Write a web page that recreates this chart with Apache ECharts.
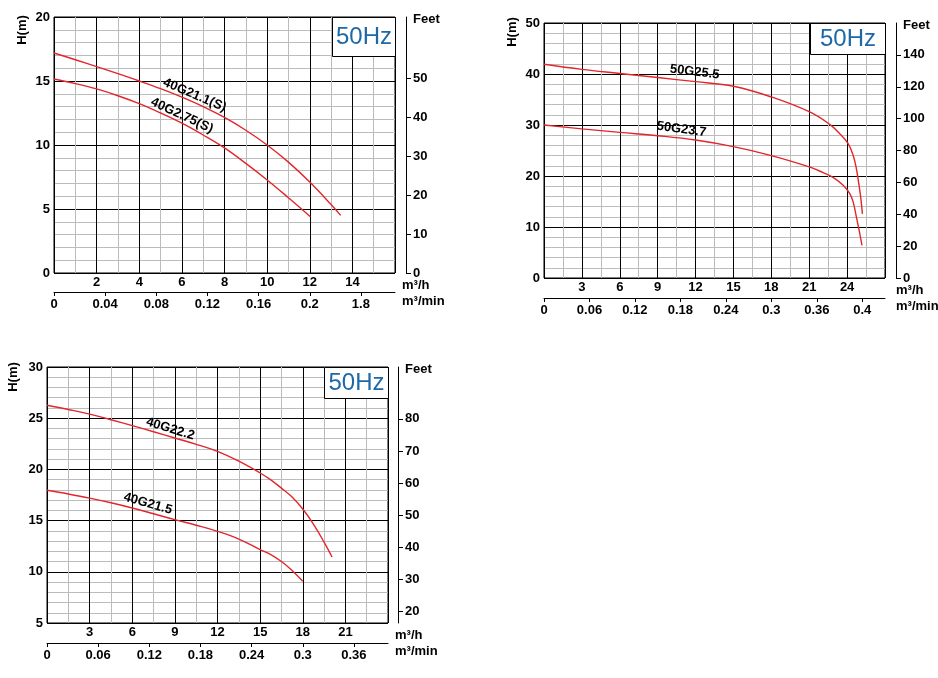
<!DOCTYPE html>
<html><head><meta charset="utf-8">
<script src="https://cdn.jsdelivr.net/npm/echarts@6/dist/echarts.min.js"></script>
<style>html,body{margin:0;padding:0;background:#fff}#c{width:938px;height:678px}</style>
</head><body><div id="c"></div>
<script>
// ===== DATA =====
// Panel A (top-left)
const aFlow1 = [0, 1, 2, 3, 4, 5, 6, 7, 8, 9, 10, 11, 12, 13, 13.45];
const aHead1 = [17.19, 16.66, 16.12, 15.57, 15.0, 14.4, 13.74, 13.0, 12.15, 11.15, 10.0, 8.66, 7.1, 5.35, 4.5];
const aFlow2 = [0, 1, 2, 3, 4, 5, 6, 7, 8, 9, 10, 11, 12.03];
const aHead2 = [15.16, 14.8, 14.38, 13.85, 13.23, 12.5, 11.7, 10.78, 9.77, 8.56, 7.27, 5.88, 4.4];
const aNames = ['40G21.1(S)', '40G2.75(S)'];
const aFlowTicks = [2, 4, 6, 8, 10, 12, 14];
const aMinTicks = [0, 0.04, 0.08, 0.12, 0.16, 0.2, 0.24];
const aMinLabels = ['0', '0.04', '0.08', '0.12', '0.16', '0.2', '1.8'];
const aFeetTicks = [0, 10, 20, 30, 40, 50];

// Panel B (top-right)
const bFlow1 = [0, 3, 6, 9, 12, 15, 18, 21, 22.6, 23.4, 24.07, 24.47, 24.73, 24.94, 25.1, 25.21];
const bHead1 = [41.9, 40.9, 40.1, 39.3, 38.5, 37.6, 35.5, 32.6, 30.17, 28.35, 26.4, 24.11, 21.5, 18.24, 15.31, 12.57];
const bFlow2 = [0, 3, 6, 9, 12, 15, 18, 21, 21.81, 22.88, 23.67, 24.2, 24.47, 24.73, 24.97, 25.18];
const bHead2 = [30.0, 29.25, 28.55, 27.9, 27.05, 25.75, 24.0, 21.8, 20.98, 19.75, 18.24, 16.6, 14.98, 12.05, 9.12, 6.38];
const bNames = ['50G25.5', '50G23.7'];
const bFlowTicks = [3, 6, 9, 12, 15, 18, 21, 24];
const bMinTicks = [0, 0.06, 0.12, 0.18, 0.24, 0.3, 0.36, 0.42];
const bMinLabels = ['0', '0.06', '0.12', '0.18', '0.24', '0.3', '0.36', '0.4'];
const bFeetTicks = [0, 20, 40, 60, 80, 100, 120, 140];

// Panel C (bottom-left)
const cFlow1 = [0, 1.5, 3, 4.5, 6, 7.5, 9, 10.5, 12, 13.5, 15, 15.75, 16.5, 17.25, 18, 18.75, 19.5, 20.06];
const cHead1 = [26.26, 25.85, 25.4, 24.85, 24.27, 23.68, 23.07, 22.45, 21.76, 20.8, 19.65, 18.98, 18.17, 17.3, 16.13, 14.66, 12.9, 11.45];
const cFlow2 = [0, 1.5, 3, 4.5, 6, 7.5, 9, 10.5, 12, 13.5, 15, 15.75, 16.5, 17.25, 18];
const cHead2 = [17.96, 17.6, 17.2, 16.74, 16.23, 15.67, 15.09, 14.55, 13.95, 13.2, 12.16, 11.68, 11.0, 10.13, 9.07];
const cNames = ['40G22.2', '40G21.5'];
const cFlowTicks = [3, 6, 9, 12, 15, 18, 21];
const cMinTicks = [0, 0.06, 0.12, 0.18, 0.24, 0.3, 0.36];
const cMinLabels = ['0', '0.06', '0.12', '0.18', '0.24', '0.3', '0.36'];
const cFeetTicks = [20, 30, 40, 50, 60, 70, 80];

const freqText = '50Hz';

// ===== LAYOUT / STYLE =====
const panelData = [
  {series: [[aFlow1, aHead1], [aFlow2, aHead2]], names: aNames, flowTicks: aFlowTicks, minTicks: aMinTicks, minLabels: aMinLabels, feetTicks: aFeetTicks},
  {series: [[bFlow1, bHead1], [bFlow2, bHead2]], names: bNames, flowTicks: bFlowTicks, minTicks: bMinTicks, minLabels: bMinLabels, feetTicks: bFeetTicks},
  {series: [[cFlow1, cHead1], [cFlow2, cHead2]], names: cNames, flowTicks: cFlowTicks, minTicks: cMinTicks, minLabels: cMinLabels, feetTicks: cFeetTicks}
];
const panels = [
  {left: 54, top: 17, width: 341, height: 256, xMax: 16, xInt: 2, yMin: 0, yMax: 20, yInt: 5,
   feetMin: 0, feetMax: 65.62, feetOff: 11, minOff: 19, boxW: 63, boxH: 39, hm: [22, 30], unitDx: 7,
   lab: [{at: [6.6, 13.9], rot: -23}, {at: [6.0, 12.3], rot: -25}]},
  {left: 544, top: 23, width: 341, height: 255, xMax: 27, xInt: 3, yMin: 0, yMax: 50, yInt: 10,
   feetMin: 0, feetMax: 160, feetOff: 11, minOff: 20, boxW: 75, boxH: 31, hm: [512, 32], unitDx: 11,
   lab: [{at: [11.93, 40.4], rot: -7}, {at: [10.88, 29.15], rot: -8}]},
  {left: 47, top: 367, width: 341, height: 256, xMax: 24, xInt: 3, yMin: 5, yMax: 30, yInt: 5,
   feetMin: 16.5, feetMax: 96.1, feetOff: 10, minOff: 20, boxW: 64, boxH: 31, hm: [13, 377], unitDx: 7,
   lab: [{at: [8.68, 23.95], rot: -17}, {at: [7.1, 16.65], rot: -16}]}
];
const FONT = '"Liberation Sans", Arial, sans-serif';
const BLACK = '#000', GRAY = '#bcbcbc', RED = '#e3262b', BLUE = '#1d69a8';
const lbl = {color: BLACK, fontFamily: FONT, fontSize: 13, fontWeight: 'bold'};

function nearestIdx(arr, v) {
  let best = 0;
  arr.forEach((a, i) => { if (Math.abs(a - v) < Math.abs(arr[best] - v)) best = i; });
  return best;
}

const chart = echarts.init(document.getElementById('c'), null, {renderer: 'canvas', width: 938, height: 678});
const grids = [], xAxes = [], yAxes = [], series = [];
panels.forEach((p, i) => {
  const d = panelData[i];
  grids.push({left: p.left, top: p.top, width: p.width, height: p.height, show: true,
    borderColor: BLACK, borderWidth: 1, backgroundColor: 'transparent'});
  xAxes.push({type: 'value', gridIndex: i, min: 0, max: p.xMax, interval: p.xInt, position: 'bottom',
    axisLine: {show: false, onZero: false}, axisTick: {show: false},
    axisLabel: Object.assign({customValues: d.flowTicks, margin: 3}, lbl),
    splitLine: {show: true, lineStyle: {color: BLACK, width: 1}},
    minorTick: {show: false, splitNumber: 2},
    minorSplitLine: {show: true, lineStyle: {color: GRAY, width: 1}}});
  xAxes.push({type: 'value', gridIndex: i, min: 0, max: p.xMax / 60, position: 'bottom', offset: p.minOff,
    axisLine: {show: true, onZero: false, lineStyle: {color: BLACK, width: 1}},
    axisTick: {show: true, customValues: d.minTicks, length: 4, lineStyle: {color: BLACK}},
    axisLabel: Object.assign({customValues: d.minTicks, margin: 6,
      formatter: (v) => d.minLabels[nearestIdx(d.minTicks, v)]}, lbl),
    splitLine: {show: false}});
  yAxes.push({type: 'value', gridIndex: i, min: p.yMin, max: p.yMax, interval: p.yInt, position: 'left',
    axisLine: {show: false, onZero: false}, axisTick: {show: false},
    axisLabel: Object.assign({margin: 4}, lbl),
    splitLine: {show: true, lineStyle: {color: BLACK, width: 1}},
    minorTick: {show: false, splitNumber: 5},
    minorSplitLine: {show: true, lineStyle: {color: GRAY, width: 1}}});
  yAxes.push({type: 'value', gridIndex: i, min: p.feetMin, max: p.feetMax, position: 'right', offset: p.feetOff,
    axisLine: {show: true, onZero: false, lineStyle: {color: BLACK, width: 1}},
    axisTick: {show: true, customValues: d.feetTicks, length: 5, lineStyle: {color: BLACK}},
    axisLabel: Object.assign({customValues: d.feetTicks, margin: 7}, lbl),
    splitLine: {show: false}});
  d.series.forEach(([fx, hy], k) => {
    series.push({type: 'line', name: d.names[k], xAxisIndex: 2 * i, yAxisIndex: 2 * i,
      data: fx.map((f, j) => [f, hy[j]]), smooth: 0.4,
      showSymbol: false, symbol: 'none', lineStyle: {color: RED, width: 1.4}, z: 5});
  });
});
chart.setOption({animation: false, grid: grids, xAxis: xAxes, yAxis: yAxes, series: series});

const g = [];
const txt = (text, x, y, extra, style) => Object.assign({type: 'text', x: x, y: y, z: 30,
  style: Object.assign({text: text, fill: BLACK, fontFamily: FONT, fontSize: 13, fontWeight: 'bold',
    align: 'left', verticalAlign: 'middle'}, style || {})}, extra || {});
panels.forEach((p, i) => {
  const d = panelData[i];
  const right = p.left + p.width, bottom = p.top + p.height;
  g.push({type: 'rect', z: 20, shape: {x: right - p.boxW + 0.5, y: p.top + 0.5, width: p.boxW, height: p.boxH},
    style: {fill: '#fff', stroke: BLACK, lineWidth: 1}});
  g.push(txt(freqText, right - p.boxW / 2 + 0.5, p.top + p.boxH / 2 + 1, null,
    {fill: BLUE, fontSize: 24, fontWeight: 'normal', align: 'center'}));
  g.push(txt('H(m)', p.hm[0], p.hm[1], {rotation: Math.PI / 2}, {align: 'center'}));
  g.push(txt('Feet', right + p.feetOff + 7, p.top + 2));
  g.push(txt('m³/h', right + p.unitDx, bottom + 12.5));
  g.push(txt('m³/min', right + p.unitDx, bottom + 28.5));
  p.lab.forEach((L, k) => {
    const pt = chart.convertToPixel({xAxisIndex: 2 * i, yAxisIndex: 2 * i}, L.at);
    g.push(txt(d.names[k], pt[0], pt[1], {rotation: L.rot * Math.PI / 180}, {align: 'center'}));
  });
});
chart.setOption({graphic: g});
</script>
</body></html>
